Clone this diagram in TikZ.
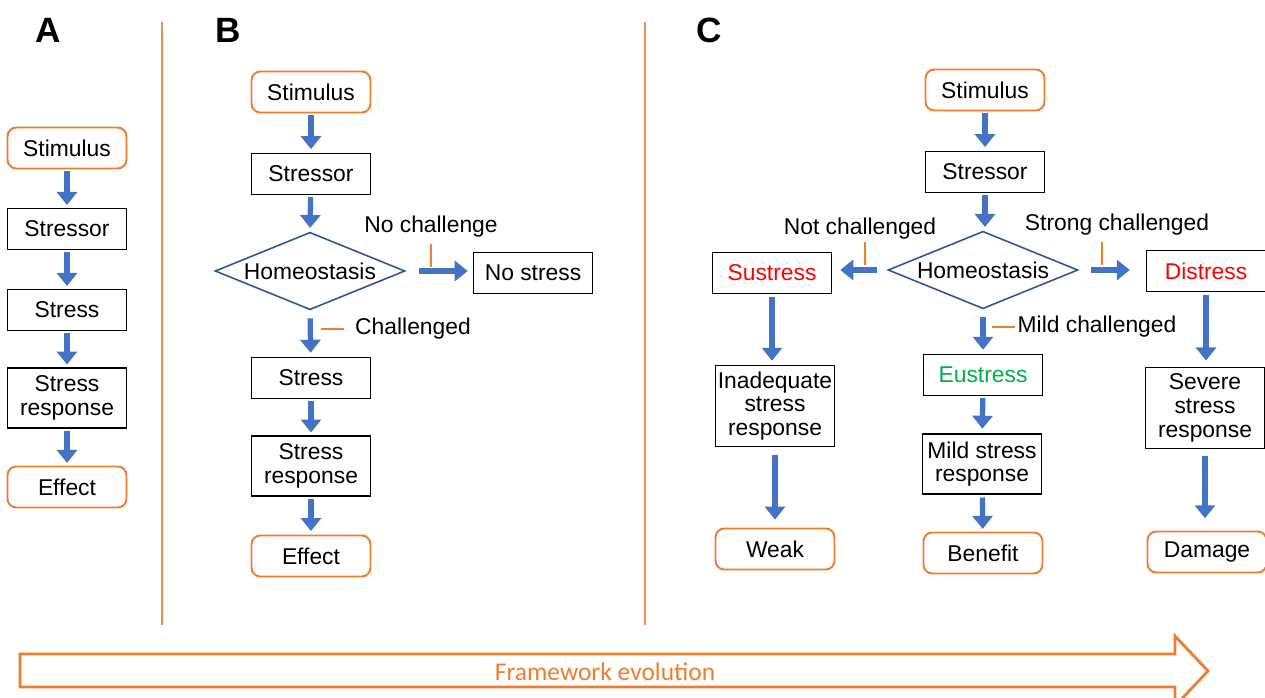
\documentclass[tikz,border=0pt]{standalone}
\usepackage{fontspec}
\setmainfont{Liberation Sans}
\newfontfamily\calib{Carlito}
\usetikzlibrary{shapes.geometric,arrows.meta}
\definecolor{boxorange}{HTML}{ED7D31}
\definecolor{arrowblue}{HTML}{4472C4}
\definecolor{diablue}{HTML}{2F5597}
\definecolor{sgreen}{HTML}{00B050}

\begin{document}
\begin{tikzpicture}[x=0.02cm, y=-0.02cm,
  every node/.style={font=\fontsize{13}{13.5}\selectfont, align=center},
  box/.style={draw=black, line width=1pt, minimum width=2.38cm, minimum height=0.82cm, inner sep=1pt},
  endbox/.style={draw=boxorange, line width=1.1pt, rounded corners=5pt, minimum width=2.38cm, minimum height=0.82cm, inner sep=1pt},
  homeo/.style={diamond, aspect=2.47, draw=diablue, line width=0.9pt, minimum width=3.8cm, minimum height=1.55cm, inner sep=0pt},
  flow/.style={draw=arrowblue, line width=3pt, -{Triangle[length=0.26cm,width=0.4cm]}},
  tick/.style={draw=boxorange, line width=0.8pt},
  divider/.style={draw=boxorange!85, line width=0.7pt},
  panel/.style={font=\fontsize{20}{20}\selectfont\bfseries}]
\useasboundingbox (0,0) rectangle (1265,697);

% panel A
\node[panel] at (48,30) {A};
\node[endbox] (aStim) at (67,148) {Stimulus};
\node[box] (aStr) at (67,229) {Stressor};
\node[box] (aSts) at (67,310) {Stress};
\node[box, minimum height=1.2cm] (aResp) at (67,398) {Stress\\response};
\node[endbox] (aEff) at (67,487) {Effect};
\foreach \u/\v in {aStim/aStr, aStr/aSts, aSts/aResp, aResp/aEff}
  \draw[flow, shorten <=1pt, shorten >=1.5pt] (\u) -- (\v);

\draw[divider] (162,22) -- (162,625);
\draw[divider] (645,22) -- (645,625);

% panel B
\node[panel] at (228,30) {B};
\node[endbox] (bStim) at (311,92) {Stimulus};
\node[box] (bStr) at (311,174) {Stressor};
\node[homeo] (bHom) at (310,271) {Homeostasis};
\node[box] (bNo) at (533,273) {No stress};
\node[box] (bSts) at (311,378) {Stress};
\node[box, minimum height=1.2cm] (bResp) at (311,466) {Stress\\response};
\node[endbox] (bEff) at (311,556) {Effect};
\node (bNoLbl) at (431,227) {No challenge};
\node (bChLbl) at (413,329) {Challenged};

\draw[flow, shorten <=1pt, shorten >=2pt] (bStim) -- (bStr);
\draw[flow, shorten <=1pt, shorten >=2pt] (bStr) -- (bHom.north);
\draw[flow, shorten <=4.5pt, shorten >=2.2pt] (bHom.south) -- (bSts);
\draw[flow, shorten <=1pt, shorten >=1.5pt] (bSts) -- (bResp);
\draw[flow, shorten <=1pt, shorten >=2pt] (bResp) -- (bEff);
\draw[flow, shorten <=7.4pt, shorten >=2.8pt] (bHom.east) -- (bHom.east -| bNo.west);
\draw[tick] (bNoLbl.south) -- ++(0,23);
\draw[tick] (bChLbl.west) ++(-5,0) -- ++(-23,0);

% panel C
\node[panel] at (709,30) {C};
\node[endbox] (cStim) at (985,90) {Stimulus};
\node[box] (cStr) at (985,172) {Stressor};
\node[homeo] (cHom) at (983,270) {Homeostasis};
\node[box, text=red] (cSus) at (772,273) {Sustress};
\node[box, text=red] (cDis) at (1206,271) {Distress};
\node[box, text=sgreen] (cEus) at (983,375) {Eustress};
\node[box, minimum height=1.2cm] (cMild) at (982,464) {Mild stress\\response};
\node[endbox] (cBen) at (983,553) {Benefit};
\node[box, minimum height=1.62cm] (cInad) at (775,406) {Inadequate\\stress\\response};
\node[endbox] (cWeak) at (775,549) {Weak};
\node[box, minimum height=1.62cm] (cSev) at (1205,408) {Severe\\stress\\response};
\node[endbox] (cDam) at (1207,552) {Damage};
\node (cNotLbl) at (860,229) {Not challenged};
\node (cStrongLbl) at (1117,225) {Strong challenged};
\node (cMildLbl) at (1097,327) {Mild challenged};

\draw[flow, shorten <=1pt, shorten >=2pt] (cStim) -- (cStr);
\draw[flow, shorten <=1pt, shorten >=2pt] (cStr.south) -- (cStr.south |- cHom.north);
\draw[flow, shorten <=5.6pt, shorten >=4.5pt] (cHom.west) -- (cHom.west -| cSus.east);
\draw[flow, shorten <=6.7pt, shorten >=9pt] (cHom.east) -- (cHom.east -| cDis.west);
\draw[flow, shorten <=4.5pt, shorten >=2.2pt] (cHom.south) -- (cEus);
\draw[flow, shorten <=1pt, shorten >=2.5pt] (cEus) -- (cMild);
\draw[flow, shorten <=1.5pt, shorten >=1.5pt] (cMild) -- (cBen);
\draw[flow, shorten <=1.5pt, shorten >=2.2pt] (cSus.south) -- (cSus.south |- cInad.north);
\draw[flow, shorten <=4.5pt, shorten >=4.5pt] (cInad.south) -- (cInad.south |- cWeak.north);
\draw[flow, shorten <=1.5pt, shorten >=3.5pt] (cDis.south) -- (cDis.south |- cSev.north);
\draw[flow, shorten <=4pt, shorten >=7pt] (cSev.south) -- (cSev.south |- cDam.north);
\draw[tick] (cNotLbl.south) ++(5,-4) -- ++(0,23);
\draw[tick] (cStrongLbl.south) ++(-15,0) -- ++(0,23);
\draw[tick] (cMildLbl.west) ++(4,0) -- ++(-23,0);

% framework arrow
\draw[boxorange, line width=1.6pt] (20,654) -- (1175,654) -- (1175,636) -- (1208,671)
  -- (1175,706) -- (1175,687) -- (20,687) -- cycle;
\node[text=boxorange, font=\calib\fontsize{14.5}{15}\selectfont] (evo) at (605,672) {Framework evolution};
\end{tikzpicture}
\end{document}
